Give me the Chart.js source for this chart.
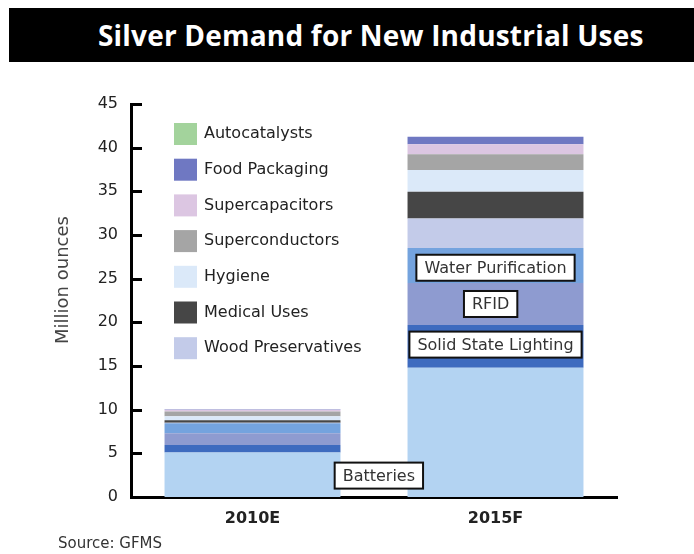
<!DOCTYPE html>
<html>
<head>
<meta charset="utf-8">
<script src="https://cdn.jsdelivr.net/npm/chart.js@4"></script>
<style>
  body { margin: 0; background: #fff; width: 694px; height: 554px; position: relative; overflow: hidden; }
  .band { position: absolute; left: 9px; top: 8px; width: 685px; height: 54px; background: #000; }
  .band span { position: absolute; left: 89px; top: 8px; color: #fff; font: bold 28px "Open Sans", sans-serif; white-space: nowrap; letter-spacing: 0.2px; }
  .source { position: absolute; left: 58px; top: 534px; font: 15px "DejaVu Sans", sans-serif; color: #333; }
  #myChart { position: absolute; left: 0; top: 0; }
</style>
</head>
<body>
<div class="band"><span>Silver Demand for New Industrial Uses</span></div>
<canvas id="myChart" width="694" height="554"></canvas>
<div class="source">Source: GFMS</div>
<script>
// categories and series, bottom of the stack first
const years = ["2010E", "2015F"];
const batteries = [5.1, 14.8];
const solidState = [0.85, 4.9];
const rfid = [1.35, 4.8];
const waterPurification = [1.15, 4.0];
const woodPreservatives = [0.05, 3.4];
const medicalUses = [0.3, 3.05];
const hygiene = [0.45, 2.5];
const superconductors = [0.55, 1.8];
const supercapacitors = [0.2, 1.15];
const foodPackaging = [0.05, 0.85];
const autocatalysts = [0, 0];
const yTicks = [0, 5, 10, 15, 20, 25, 30, 35, 40, 45];

// boxed labels inside the bars: text, category position, value
const boxLabels = ["Batteries", "Solid State Lighting", "RFID", "Water Purification"];
const boxCats = [0.52, 1, 0.98, 1];
const boxVals = [2.45, 17.45, 22.1, 26.25];

const legendOrder = ["Autocatalysts", "Food Packaging", "Supercapacitors", "Superconductors",
  "Hygiene", "Medical Uses", "Wood Preservatives"];

const series = [
  { label: "Batteries", data: batteries, backgroundColor: "#b3d3f2" },
  { label: "Solid State Lighting", data: solidState, backgroundColor: "#3e6bbf" },
  { label: "RFID", data: rfid, backgroundColor: "#8e9bd0" },
  { label: "Water Purification", data: waterPurification, backgroundColor: "#74a3de" },
  { label: "Wood Preservatives", data: woodPreservatives, backgroundColor: "#c3cbe9" },
  { label: "Medical Uses", data: medicalUses, backgroundColor: "#464646" },
  { label: "Hygiene", data: hygiene, backgroundColor: "#dbe9f9" },
  { label: "Superconductors", data: superconductors, backgroundColor: "#a5a5a5" },
  { label: "Supercapacitors", data: supercapacitors, backgroundColor: "#dcc6e2" },
  { label: "Food Packaging", data: foodPackaging, backgroundColor: "#6f78c2" },
  { label: "Autocatalysts", data: autocatalysts, backgroundColor: "#a3d39c" },
];

//draws inward ticks, the legend, the boxed labels and the axis title
const extras = {
  id: "extras",
  afterDatasetsDraw(chart) {
    const ctx = chart.ctx;
    const area = chart.chartArea;
    const x = chart.scales.x;
    const y = chart.scales.y;
    ctx.save();
    // inward ticks
    ctx.strokeStyle = "#000";
    ctx.lineWidth = 3;
    yTicks.forEach((t) => {
      if (t === 0) return;
      const py = Math.round(y.getPixelForValue(t)) + 0.5;
      ctx.beginPath();
      ctx.moveTo(area.left, py);
      ctx.lineTo(area.left + 11, py);
      ctx.stroke();
    });
    // legend
    ctx.font = '16px "DejaVu Sans"';
    ctx.textBaseline = "middle";
    ctx.textAlign = "left";
    legendOrder.forEach((name, i) => {
      const ds = chart.data.datasets.find((d) => d.label === name);
      const cy = 134 + i * 35.7;
      ctx.fillStyle = ds.backgroundColor;
      ctx.fillRect(174, cy - 11, 23, 22);
      ctx.fillStyle = "#222";
      ctx.fillText(name, 204, cy);
    });
    // boxed labels
    ctx.textAlign = "center";
    boxLabels.forEach((txt, i) => {
      const cx = x.getPixelForValue(boxCats[i]);
      const cy = y.getPixelForValue(boxVals[i]);
      const w = ctx.measureText(txt).width + 16;
      const h = 26;
      ctx.fillStyle = "#fff";
      ctx.fillRect(cx - w / 2, cy - h / 2, w, h);
      ctx.lineWidth = 2;
      ctx.strokeStyle = "#111";
      ctx.strokeRect(cx - w / 2, cy - h / 2, w, h);
      ctx.fillStyle = "#333";
      ctx.fillText(txt, cx, cy + 1);
    });
    // y axis title
    ctx.translate(63, 280);
    ctx.rotate(-Math.PI / 2);
    ctx.fillStyle = "#444";
    ctx.font = '18px "DejaVu Sans"';
    ctx.fillText("Million ounces", 0, 0);
    ctx.restore();
  },
};

const ctx = document.getElementById("myChart").getContext("2d");
const chart = new Chart(ctx, {
  type: "bar",
  data: {
    labels: years,
    datasets: series.map((s) => ({ ...s, borderWidth: 0, categoryPercentage: 1, barPercentage: 0.724 })),
  },
  options: {
    responsive: false,
    animation: false,
    layout: { padding: { top: 104, right: 77, bottom: 0, left: 0 } },
    plugins: { legend: { display: false }, tooltip: { enabled: false } },
    scales: {
      x: {
        stacked: true,
        grid: { display: false, drawTicks: false },
        border: { display: true, color: "#000", width: 3 },
        ticks: { color: "#222", font: { family: "DejaVu Sans", size: 16, weight: "bold" }, padding: 12 },
        afterFit: (s) => { s.height = 57; },
      },
      y: {
        stacked: true,
        min: 0,
        max: 45,
        grid: { display: false, drawTicks: false },
        border: { display: true, color: "#000", width: 3 },
        ticks: {
          stepSize: 5,
          color: "#222",
          font: { family: "DejaVu Sans", size: 16 },
          padding: 13,
        },
        afterBuildTicks: (s) => { s.ticks = yTicks.map((v) => ({ value: v })); },
        afterFit: (s) => { s.width = 131; },
      },
    },
  },
  plugins: [extras],
});
</script>
</body>
</html>
